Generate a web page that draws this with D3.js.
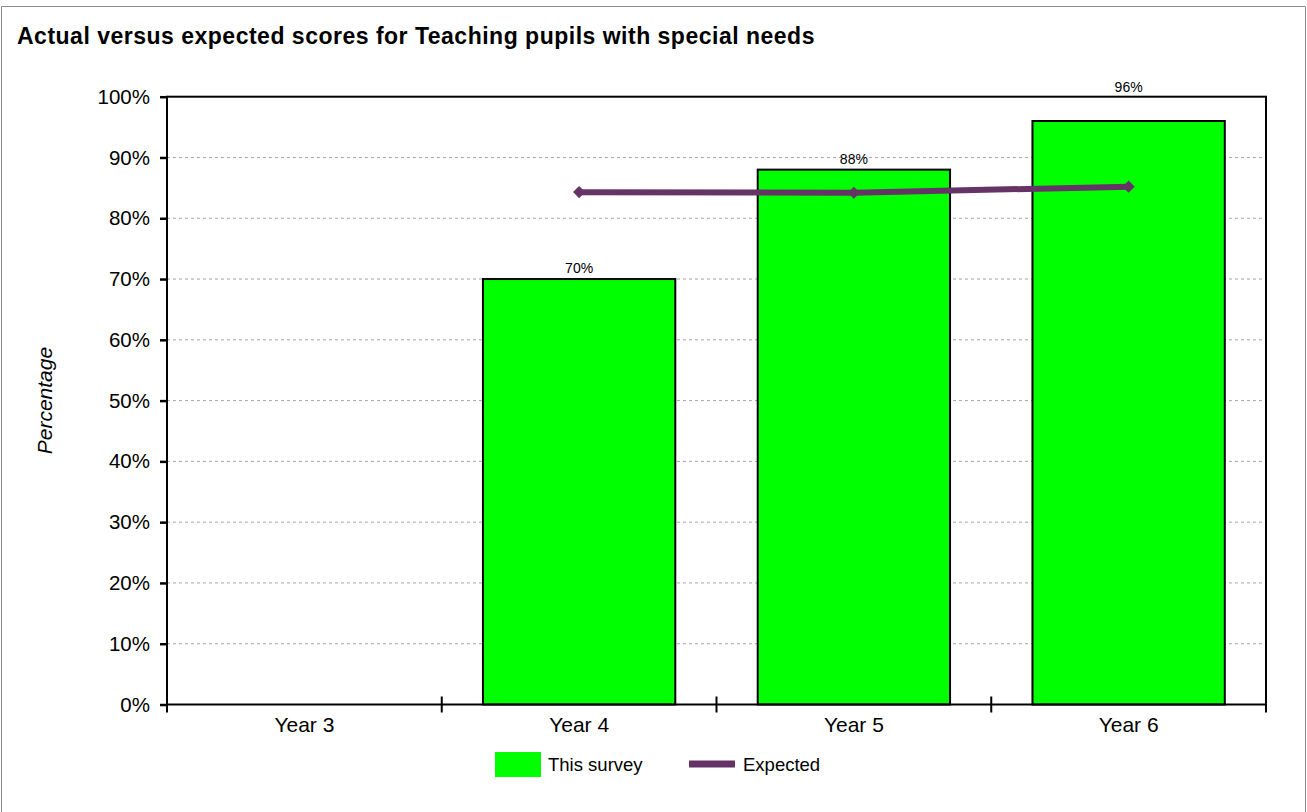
<!DOCTYPE html>
<html>
<head>
<meta charset="utf-8">
<script src="https://cdn.jsdelivr.net/npm/d3@7"></script>
<style>
  html, body { margin: 0; padding: 0; background: #fff; }
  svg { display: block; font-family: "Liberation Sans", Arial, sans-serif; }
</style>
</head>
<body>
<svg id="chart" width="1307" height="812"></svg>
<script>
// Year groups on the x axis
const categories = ["Year 3", "Year 4", "Year 5", "Year 6"];
// Share of pupils scoring as expected in this survey (null = no data)
const surveyValues = [null, 70, 88, 96];
// Expected scores for the same year groups
const expectedValues = [null, 84.3, 84.2, 85.2];
// Y axis tick values (percent)
const yTicks = [0, 10, 20, 30, 40, 50, 60, 70, 80, 90, 100];

const svg = d3.select("#chart");
const W = 1307, H = 812;
const plot = { left: 167, right: 1266, top: 96.7, bottom: 704.5 };

// outer frame
svg.append("path")
  .attr("d", `M1.5,${H} V6.5 H1305.5 V${H}`)
  .attr("fill", "none")
  .attr("stroke", "#8c8c8c")
  .attr("stroke-width", 1);

// title
svg.append("text")
  .attr("x", 17).attr("y", 44)
  .attr("font-size", 23).attr("font-weight", "bold")
  .attr("letter-spacing", 0.5)
  .attr("fill", "#000")
  .text("Actual versus expected scores for Teaching pupils with special needs");

const x = d3.scaleBand()
  .domain(categories)
  .range([plot.left, plot.right])
  .paddingInner(0.3)
  .paddingOuter(0.15);

const y = d3.scaleLinear()
  .domain([0, 100])
  .range([plot.bottom, plot.top]);

// dashed gridlines
svg.append("g")
  .selectAll("line")
  .data(yTicks.filter(t => t > 0 && t < 100))
  .join("line")
  .attr("x1", plot.left).attr("x2", plot.right)
  .attr("y1", d => y(d)).attr("y2", d => y(d))
  .attr("stroke", "#a6a6a6")
  .attr("stroke-width", 1)
  .attr("stroke-dasharray", "3,3");

// survey bars
const barData = categories.map((c, i) => ({ c, v: surveyValues[i] })).filter(d => d.v != null);
svg.append("g")
  .selectAll("rect")
  .data(barData)
  .join("rect")
  .attr("x", d => x(d.c))
  .attr("width", x.bandwidth())
  .attr("y", d => y(d.v))
  .attr("height", d => y(0) - y(d.v))
  .attr("fill", "#00ff00")
  .attr("stroke", "#000")
  .attr("stroke-width", 2);

// plot frame
svg.append("rect")
  .attr("x", plot.left).attr("y", plot.top)
  .attr("width", plot.right - plot.left)
  .attr("height", plot.bottom - plot.top)
  .attr("fill", "none")
  .attr("stroke", "#000")
  .attr("stroke-width", 2);

// y axis
const yAxis = d3.axisLeft(y)
  .tickValues(yTicks)
  .tickFormat(d => d + "%")
  .tickSize(7)
  .tickPadding(10);
const gy = svg.append("g")
  .attr("transform", `translate(${plot.left},0)`)
  .call(yAxis);
gy.select(".domain").remove();
gy.selectAll(".tick line").attr("stroke", "#000").attr("stroke-width", 2.5);
gy.selectAll(".tick text")
  .attr("font-size", 20.5)
  .attr("font-family", "Liberation Sans, Arial, sans-serif")
  .attr("fill", "#000");

// x axis: category boundaries carry the ticks, labels sit at band centres
const boundaries = d3.range(categories.length + 1).map(i => plot.left + i * x.step());
svg.append("g")
  .selectAll("line")
  .data(boundaries)
  .join("line")
  .attr("x1", d => d).attr("x2", d => d)
  .attr("y1", (d, i) => (i === 0 || i === boundaries.length - 1) ? plot.bottom : plot.bottom - 8)
  .attr("y2", plot.bottom + 8)
  .attr("stroke", "#000")
  .attr("stroke-width", 2);

svg.append("g")
  .selectAll("text")
  .data(categories)
  .join("text")
  .attr("x", d => x(d) + x.bandwidth() / 2)
  .attr("y", plot.bottom + 27)
  .attr("text-anchor", "middle")
  .attr("font-size", 21)
  .attr("fill", "#000")
  .text(d => d);

// y axis title
svg.append("text")
  .attr("transform", `translate(52,${(plot.top + plot.bottom) / 2}) rotate(-90)`)
  .attr("text-anchor", "middle")
  .attr("font-size", 21)
  .attr("font-style", "italic")
  .attr("fill", "#000")
  .text("Percentage");

// value labels above the bars (labels for near-full bars sit above the frame)
svg.append("g")
  .selectAll("text")
  .data(barData)
  .join("text")
  .attr("x", d => x(d.c) + x.bandwidth() / 2)
  .attr("y", d => d.v > 95 ? y(100) - 5 : y(d.v) - 6)
  .attr("text-anchor", "middle")
  .attr("font-size", 14)
  .attr("fill", "#000")
  .text(d => d.v + "%");

// expected line with diamond markers
const lineColor = "#663366";
const lineData = categories.map((c, i) => ({ c, v: expectedValues[i] })).filter(d => d.v != null);
const line = d3.line()
  .x(d => x(d.c) + x.bandwidth() / 2)
  .y(d => y(d.v));
svg.append("path")
  .datum(lineData)
  .attr("d", line)
  .attr("fill", "none")
  .attr("stroke", lineColor)
  .attr("stroke-width", 6);

const diamond = d3.symbol().type(d3.symbolDiamond2).size(95);
svg.append("g")
  .selectAll("path")
  .data(lineData)
  .join("path")
  .attr("transform", d => `translate(${x(d.c) + x.bandwidth() / 2},${y(d.v)})`)
  .attr("d", diamond)
  .attr("fill", lineColor);

// legend
const legend = svg.append("g");
legend.append("rect")
  .attr("x", 495).attr("y", 752)
  .attr("width", 46).attr("height", 25)
  .attr("fill", "#00ff00");
legend.append("text")
  .attr("x", 548).attr("y", 771)
  .attr("font-size", 18.5)
  .attr("fill", "#000")
  .text("This survey");
legend.append("line")
  .attr("x1", 689).attr("x2", 735)
  .attr("y1", 764).attr("y2", 764)
  .attr("stroke", lineColor)
  .attr("stroke-width", 7);
legend.append("text")
  .attr("x", 743).attr("y", 771)
  .attr("font-size", 18.5)
  .attr("fill", "#000")
  .text("Expected");
</script>
</body>
</html>
